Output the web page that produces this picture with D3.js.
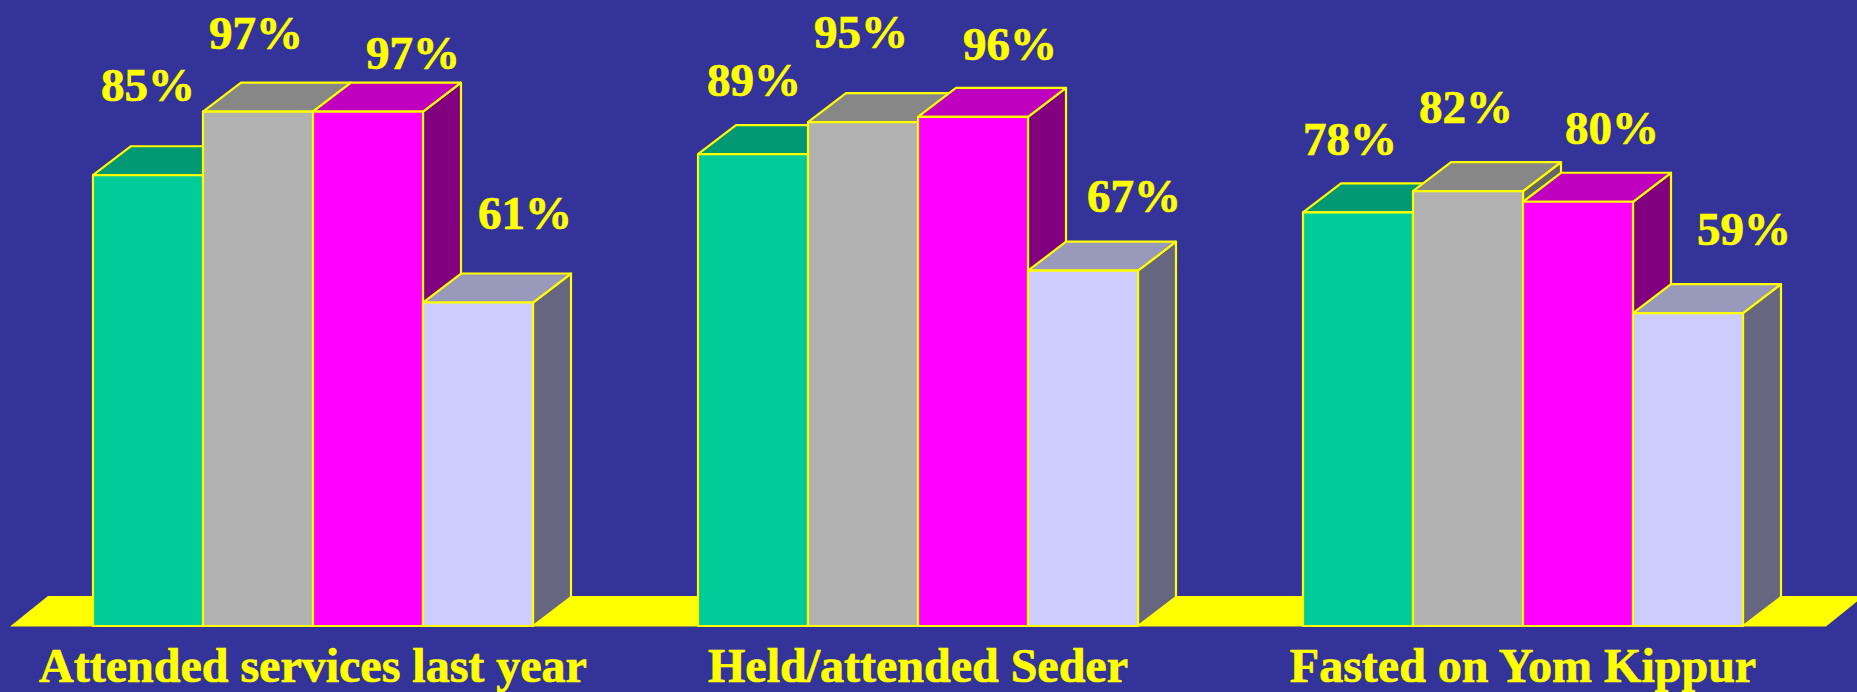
<!DOCTYPE html>
<html>
<head>
<meta charset="utf-8">
<script src="https://cdn.jsdelivr.net/npm/d3@7"></script>
<style>
  html, body { margin: 0; padding: 0; background: #333399; overflow: hidden; }
  svg { display: block; }
</style>
</head>
<body>
<svg id="chart"></svg>
<script>
const categories = ['Attended services last year', 'Held/attended Seder', 'Fasted on Yom Kippur']
const seriesNames = ['green', 'gray', 'magenta', 'lavender']
const greenValues = [85, 89, 78]
const grayValues = [97, 95, 82]
const magentaValues = [97, 96, 80]
const lavenderValues = [61, 67, 59]
const seriesValues = [greenValues, grayValues, magentaValues, lavenderValues]

// front, top, side
const faceColors = {
  green: ['#00cc99', '#009973', '#006650'],
  gray: ['#b2b2b2', '#878787', '#666666'],
  magenta: ['#ff00ff', '#bf00bf', '#800080'],
  lavender: ['#ccccff', '#9999bb', '#666680'],
}

// value labels were placed by hand in the original, offset from each bar's front-top centre
const labelNudge = [
  [[0, -74], [-2, -63], [45, -43], [47, -74]],
  [[1, -58], [-2, -74], [37, -57], [51, -59]],
  [[-8, -57], [-2, -68], [34, -58], [56, -68]],
]

const svgWidth = 1857
const svgHeight = 692
const depthX = 38
const depthY = 29
const floorOverhang = 83
const ink = '#ffff00'
const font = "'Times New Roman', 'Liberation Serif', serif"

const x0 = d3.scaleBand()
  .domain(categories)
  .range([93, 1743])
  .paddingInner(165 / 605)
  .paddingOuter(0)

const x1 = d3.scaleBand()
  .domain(seriesNames)
  .range([0, x0.bandwidth()])

const y = d3.scaleLinear()
  .domain([0, 100])
  .range([626, 95.7])

const svg = d3.select('#chart')
  .attr('width', svgWidth)
  .attr('height', svgHeight)

svg.append('rect')
  .attr('width', svgWidth)
  .attr('height', svgHeight)
  .attr('fill', '#333399')

// floor
const [r0, r1] = x0.range()
const fl = r0 - floorOverhang
const fr = r1 + floorOverhang
svg.append('polygon')
  .attr('points', [[fl, y(0) + 0.5], [fr, y(0) + 0.5], [fr + depthX, y(0) - 30], [fl + depthX, y(0) - 30]].join(' '))
  .attr('fill', ink)

const bars = categories.flatMap((c, ci) => seriesNames.map((s, si) => ({
  category: c, ci, series: s, si, value: seriesValues[si][ci],
})))

const bw = x1.bandwidth()

const bar = svg.append('g')
  .attr('stroke', ink)
  .attr('stroke-width', 2.2)
  .attr('stroke-linejoin', 'round')
  .selectAll('g')
  .data(bars)
  .join('g')

const geom = (d) => {
  const xl = x0(d.category) + x1(d.series)
  return { xl, xr: xl + bw, yt: y(d.value), yb: y(0) }
}

bar.append('polygon')
  .attr('fill', (d) => faceColors[d.series][2])
  .attr('points', (d) => {
    const { xr, yt, yb } = geom(d)
    return [[xr, yt], [xr + depthX, yt - depthY], [xr + depthX, yb - depthY], [xr, yb]].join(' ')
  })

bar.append('polygon')
  .attr('fill', (d) => faceColors[d.series][1])
  .attr('points', (d) => {
    const { xl, xr, yt } = geom(d)
    return [[xl, yt], [xr, yt], [xr + depthX, yt - depthY], [xl + depthX, yt - depthY]].join(' ')
  })

bar.append('rect')
  .attr('fill', (d) => faceColors[d.series][0])
  .attr('x', (d) => geom(d).xl)
  .attr('y', (d) => geom(d).yt)
  .attr('width', bw)
  .attr('height', (d) => y(0) - y(d.value))

svg.append('g')
  .attr('fill', ink)
  .attr('stroke', ink)
  .attr('stroke-width', 0.7)
  .attr('font-family', font)
  .attr('font-weight', 'bold')
  .attr('font-size', 47)
  .attr('text-anchor', 'middle')
  .selectAll('text')
  .data(bars)
  .join('text')
  .attr('x', (d) => geom(d).xl + bw / 2 + labelNudge[d.ci][d.si][0])
  .attr('y', (d) => geom(d).yt + labelNudge[d.ci][d.si][1])
  .text((d) => `${d.value}%`)

svg.append('g')
  .attr('fill', ink)
  .attr('stroke', ink)
  .attr('stroke-width', 0.7)
  .attr('font-family', font)
  .attr('font-weight', 'bold')
  .attr('font-size', 48)
  .attr('text-anchor', 'middle')
  .selectAll('text')
  .data(categories)
  .join('text')
  .attr('x', (d) => x0(d) + x0.bandwidth() / 2)
  .attr('y', 682)
  .text((d) => d)
</script>
</body>
</html>
